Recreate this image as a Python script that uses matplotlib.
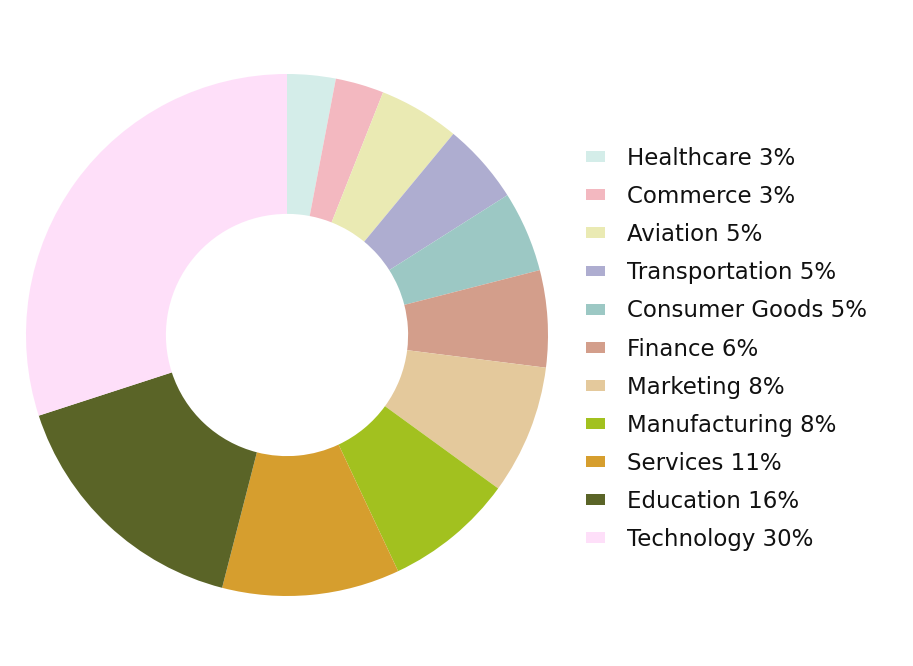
import matplotlib
matplotlib.use('Agg')
import matplotlib.pyplot as plt
from matplotlib.patches import Rectangle

sectors = ['Healthcare', 'Commerce', 'Aviation', 'Transportation', 'Consumer Goods',
           'Finance', 'Marketing', 'Manufacturing', 'Services', 'Education', 'Technology']
shares = [3, 3, 5, 5, 5, 6, 8, 8, 11, 16, 30]
colors = ['#d4ede9', '#f3b8c0', '#eaeab3', '#aeadd0', '#9cc8c4', '#d39e8b',
          '#e4c99c', '#a2c11f', '#d69e2e', '#5a6427', '#fedff9']

plt.rcParams['font.family'] = ['DejaVu Sans']

W, H = 913, 666
fig = plt.figure(figsize=(W / 100, H / 100), dpi=100)

# pie centre and radius in pixels
cx, cy, r = 287, 666 - 335, 261
ax = fig.add_axes([(cx - r) / W, (cy - r) / H, 2 * r / W, 2 * r / H])
wedges, _ = ax.pie(shares, colors=colors, startangle=90, counterclock=False,
                   radius=1, wedgeprops=dict(width=0.536, linewidth=0))
ax.set_xlim(-1, 1)
ax.set_ylim(-1, 1)
ax.set_aspect('equal')
ax.axis('off')

handles = [Rectangle((0, 0), 1, 1, facecolor=c, edgecolor='none') for c in colors]
labels = [f'{s} {v}%' for s, v in zip(sectors, shares)]
leg = fig.legend(handles, labels, loc='center left',
                 bbox_to_anchor=(586 / W, (666 - 349) / H),
                 frameon=False, fontsize=16.5, handlelength=0.83, handleheight=0.35,
                 handletextpad=0.96, labelspacing=0.66, borderaxespad=0,
                 borderpad=0)
for t in leg.get_texts():
    t.set_color('#111111')

fig.savefig('out.png', dpi=100)
